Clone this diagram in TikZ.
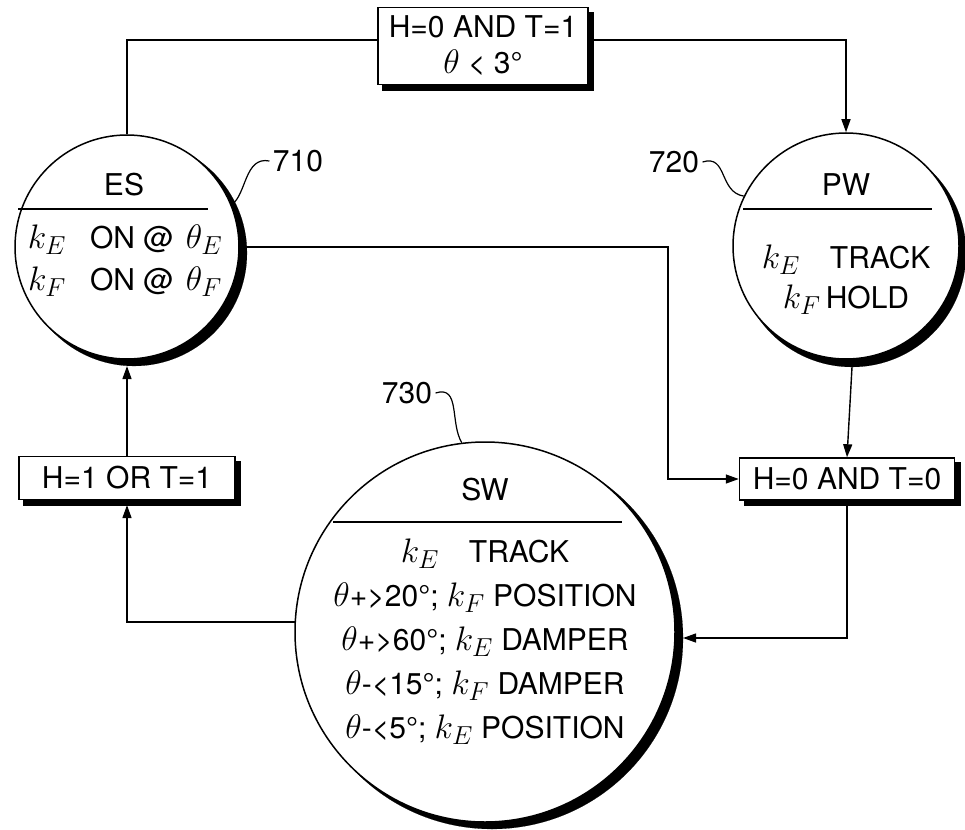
\RequirePackage{fix-cm}
\documentclass[tikz,border=0pt]{standalone}
\usepackage{fontspec}
\setmainfont{TeX Gyre Heros}
\DeclareMathSizes{30}{34}{26}{20}
\usetikzlibrary{arrows.meta}

\tikzset{
  state/.style={circle, draw, line width=1.5pt, fill=white, inner sep=0pt},
  cond/.style={rectangle, draw, line width=1.5pt, fill=white, inner sep=0.75pt, align=center},
  shadownode/.style={draw=black, line width=0.1pt, fill=black},
  flow/.style={line width=1.4pt, -{Triangle[length=13pt,width=9pt]}},
  leader/.style={line width=1.2pt}
}

\begin{document}
\begin{tikzpicture}[x=1pt,y=1pt,yscale=-1,xscale=1,font=\fontsize{30}{36}\selectfont]
\useasboundingbox (0,0) rectangle (965,829);

%Centres
\coordinate (esC) at (127,247);
\coordinate (pwC) at (846,246);
\coordinate (swC) at (485,632);
\coordinate (c1C) at (483,46);
\coordinate (c2C) at (127,478);
\coordinate (c3C) at (847,479);
\coordinate (bend) at (668,479);

%Shadows
\node[state, shadownode, minimum size=226pt] (esS) at ([shift={(7,6)}]esC) {};
\node[state, shadownode, minimum size=228pt] (pwS) at ([shift={(6,7)}]pwC) {};
\node[state, shadownode, minimum size=382pt] (swS) at ([shift={(7,6)}]swC) {};
\node[cond, shadownode, minimum width=211pt, minimum height=78pt] (c1S) at ([shift={(5,5)}]c1C) {};
\node[cond, shadownode, minimum width=217pt, minimum height=44pt] (c2S) at ([shift={(5,5)}]c2C) {};
\node[cond, shadownode, minimum width=216pt, minimum height=43pt] (c3S) at ([shift={(5,5)}]c3C) {};

%States
\node[state, minimum size=224pt] (es) at (esC) {};
\node[state, minimum size=226pt] (pw) at (pwC) {};
\node[state, minimum size=380pt] (sw) at (swC) {};

%Conditions
\node[cond, minimum width=210pt, minimum height=77pt] (c1) at (c1C) {H=0 AND T=1\\$\theta$ < 3°};
\node[cond, minimum width=216pt, minimum height=43pt] (c2) at (c2C) {H=1 OR T=1};
\node[cond, minimum width=215pt, minimum height=42pt] (c3) at (c3C) {H=0 AND T=0};

% Text Node
\node (esT) at (124,185) {ES};
\draw[line width=1.4pt] (18,209) -- (208,209);
\node[align=center, font=\fontsize{30}{42}\selectfont] (esB) at (125,261) {$k_E$\hspace{0.8em}ON @\hspace{0.4em}$\theta_E$\\$k_F$\hspace{0.8em}ON @\hspace{0.4em}$\theta_F$};

% Text Node
\node (pwT) at (846,185) {PW};
\draw[line width=1.4pt] (743,209) -- (932,209);
\node[align=center, font=\fontsize{30}{40}\selectfont] (pwB) at (846,280) {$k_E$\hspace{1em}TRACK\\$k_F$\,HOLD};

% Text Node
\node (swT) at (485,490) {SW};
\draw[line width=1.4pt] (333,522) -- (622,522);
\node[align=center, font=\fontsize{30}{44}\selectfont] (swB) at (485,642) {$k_E$\hspace{1em}TRACK\\$\theta$+>20°; $k_F$ POSITION\\$\theta$+>60°; $k_E$ DAMPER\\$\theta$-<15°; $k_F$ DAMPER\\$\theta$-<5°; $k_E$ POSITION};

% Reference numerals
\node (l710) at (298,161) {710};
\node (l720) at (674,162) {720};
\node (l730) at (407,393) {730};
\draw[leader] (l710.west) .. controls +(-25,-5) and +(15,-10) .. (es.22);
\draw[leader] (l720.east) .. controls +(25,-8) and +(-25,-4) .. (pw.154);
\draw[leader] (l730.east) .. controls +(25,-8) and +(-12,-20) .. (sw.97);

%Connectors
\draw[line width=1.4pt] ([yshift=-6pt]c1.west) -| (es.north);
\draw[flow] ([yshift=-6pt]c1.east) -| (pw.north);
\draw[flow] (es.east) -| (bend) -- (c3.west);
\draw[flow] (pwS.south) -- (c3.north);
\draw[flow] (c3S.south -| c3.south) |- (swS.east);
\draw[flow] (sw.177) -| (c2S.south -| c2.south);
\draw[flow] (c2.north) -- (esS.south -| es.south);

\end{tikzpicture}
\end{document}
